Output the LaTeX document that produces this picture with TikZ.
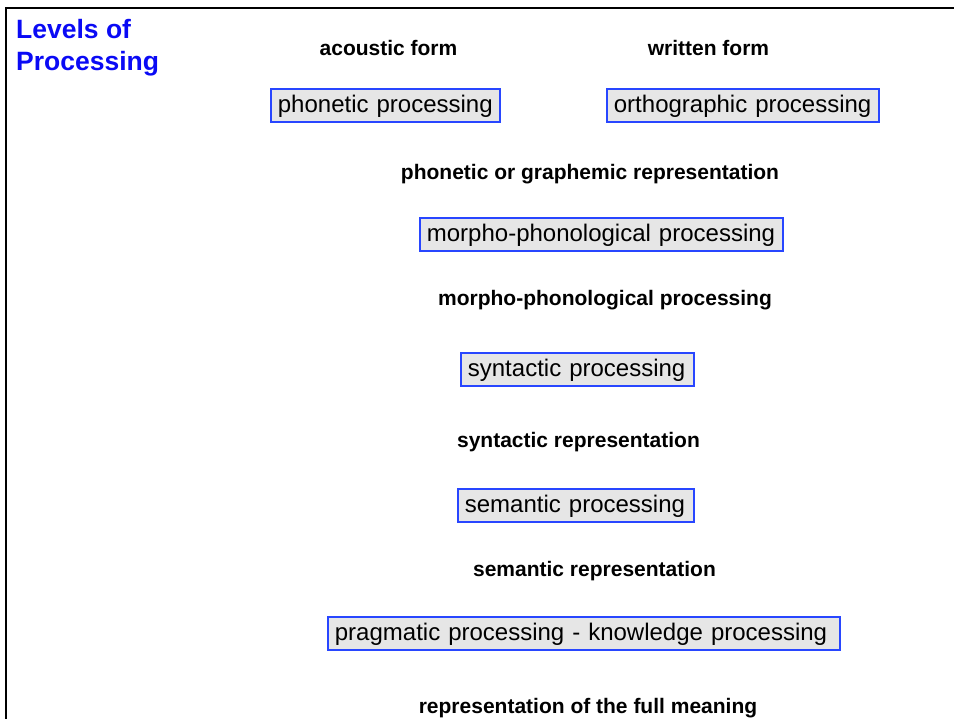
\documentclass[tikz,border=0pt]{standalone}
\usepackage{fontspec}
\setmainfont{Liberation Sans}
\definecolor{boxblue}{RGB}{40,70,255}
\definecolor{boxfill}{RGB}{230,230,230}
\definecolor{titleblue}{RGB}{10,10,245}
\begin{document}
\begin{tikzpicture}[x=1pt,y=-1pt,
  procbox/.style={draw=boxblue, line width=1.8pt, fill=boxfill, anchor=north west,
    inner xsep=7pt, inner ysep=0pt, minimum height=33pt, align=left,
    text height=18pt, text depth=4pt, font=\fontsize{24}{28}\selectfont},
  lbl/.style={anchor=base, inner sep=0pt, font=\fontsize{21}{25}\selectfont\bfseries},
  ttl/.style={anchor=base west, inner sep=0pt, text=titleblue, align=left,
    font=\fontsize{26.5}{32}\selectfont\bfseries}]
\useasboundingbox (0,0) rectangle (954,719);
\draw[line width=2.3pt] (6.3,719) -- (6.3,8) -- (954,8);
\node[ttl] (title) at (16,71) {Levels of\\Processing};
\node[lbl] (acoustic) at (388.5,56) {acoustic form};
\node[lbl] (written) at (708.5,55.5) {written form};
\node[procbox, text width=215pt] (phon) at (270,88) {phonetic processing};
\node[procbox, text width=258pt] (ortho) at (606,88) {orthographic processing};
\node[lbl] (graph) at (590,180) {phonetic or graphemic representation};
\node[procbox, text width=349pt] (morph) at (419,217) {morpho-phonological processing};
\node[lbl] (morphrep) at (605,306) {morpho-phonological processing};
\node[procbox, text width=219pt] (syn) at (460,352) {syntactic processing};
\node[lbl] (synrep) at (578.5,448) {syntactic representation};
\node[procbox, text width=222pt] (sem) at (457,488) {semantic processing};
\node[lbl] (semrep) at (594.5,576) {semantic representation};
\node[procbox, text width=498pt] (prag) at (327,616) {pragmatic processing - knowledge processing};
\node[lbl] (full) at (588,713) {representation of the full meaning};
\end{tikzpicture}
\end{document}
